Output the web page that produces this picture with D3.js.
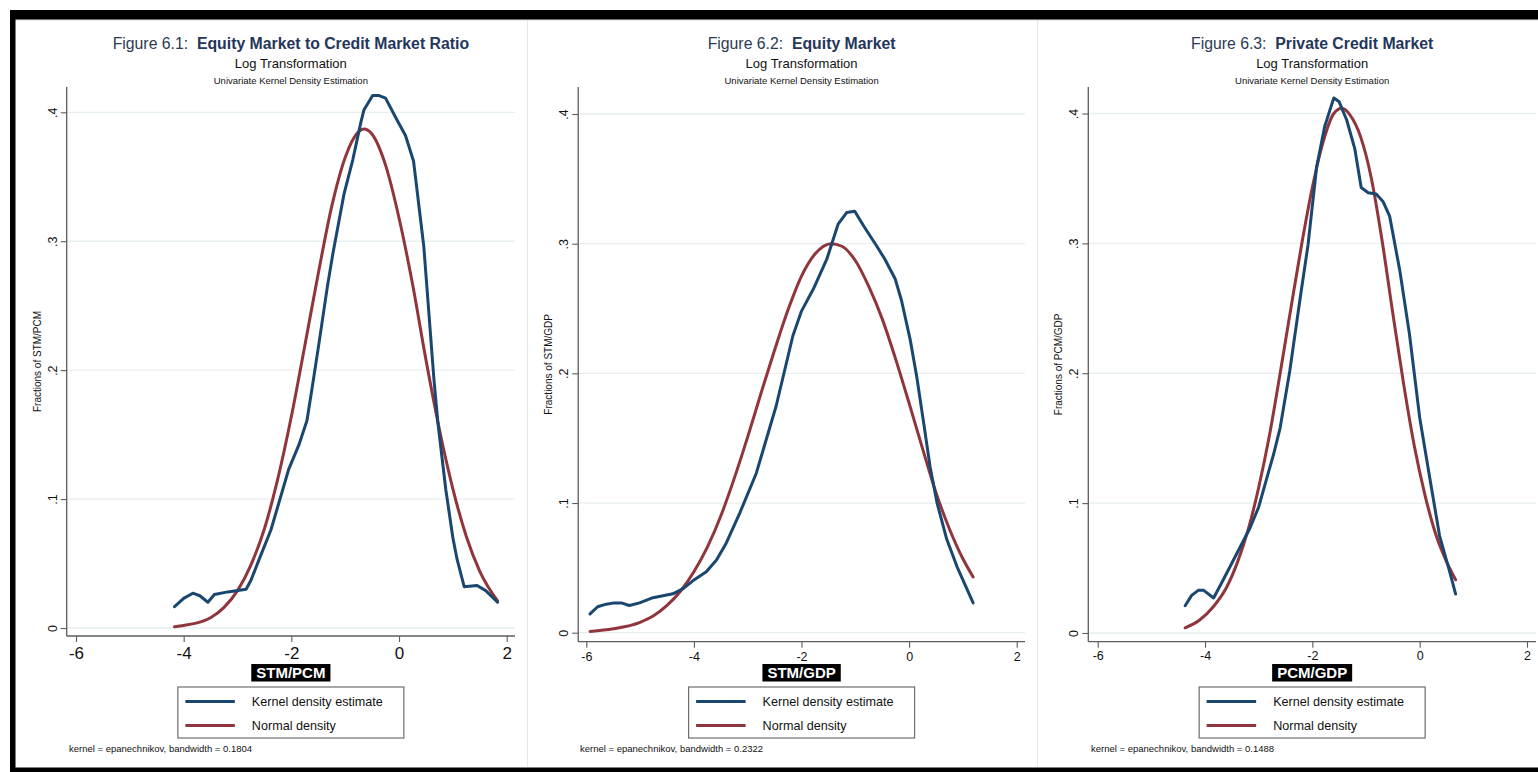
<!DOCTYPE html>
<html>
<head>
<meta charset="utf-8">
<script src="https://cdn.jsdelivr.net/npm/d3@7"></script>
<style>
  body { margin: 0; background: #fff; }
  svg { display: block; font-family: "Liberation Sans", Arial, Helvetica, sans-serif; }
</style>
</head>
<body>
<svg id="chart" width="1538" height="772"></svg>
<script>
// ---- Axis ticks and labels ----
const xTicks = [-6, -4, -2, 0, 2];
const xTickLabels = ["-6", "-4", "-2", "0", "2"];
const yTicks = [0, 0.1, 0.2, 0.3, 0.4];
const yTickLabels = ["0", ".1", ".2", ".3", ".4"];

// ---- Panel texts ----
const figureNumbers = ["Figure 6.1:", "Figure 6.2:", "Figure 6.3:"];
const figureTitles = ["Equity Market to Credit Market Ratio", "Equity Market", "Private Credit Market"];
const subtitle = "Log Transformation";
const subsubtitle = "Univariate Kernel Density Estimation";
const variableNames = ["STM/PCM", "STM/GDP", "PCM/GDP"];
const bandwidths = ["0.1804", "0.2322", "0.1488"];
const seriesNames = ["Kernel density estimate", "Normal density"];

// ---- Densities, [log value, density] ----
const kdeStmPcm = [
  [-4.17, 0.0165], [-4.00, 0.023], [-3.83, 0.027], [-3.70, 0.025], [-3.55, 0.020], [-3.43, 0.026],
  [-3.18, 0.028], [-2.84, 0.030], [-2.75, 0.037], [-2.60, 0.053], [-2.38, 0.076], [-2.19, 0.103],
  [-2.05, 0.123], [-1.86, 0.142], [-1.71, 0.161], [-1.60, 0.190], [-1.49, 0.220], [-1.33, 0.265],
  [-1.23, 0.290], [-1.02, 0.337], [-0.86, 0.363], [-0.71, 0.392], [-0.65, 0.402], [-0.49, 0.413],
  [-0.37, 0.413], [-0.25, 0.411], [-0.05, 0.395], [0.12, 0.382], [0.27, 0.362], [0.46, 0.296],
  [0.65, 0.192], [0.72, 0.160], [0.87, 0.107], [1.00, 0.070], [1.08, 0.053], [1.21, 0.032],
  [1.45, 0.033], [1.61, 0.029], [1.83, 0.020]
];
const normalStmPcm = [
  [-4.17, 0.001], [-4.00, 0.002], [-3.75, 0.004], [-3.50, 0.008], [-3.25, 0.016], [-3.00, 0.029],
  [-2.75, 0.049], [-2.50, 0.077], [-2.25, 0.116], [-2.00, 0.164], [-1.75, 0.219], [-1.50, 0.275],
  [-1.25, 0.327], [-1.00, 0.365], [-0.75, 0.385], [-0.65, 0.387], [-0.50, 0.383], [-0.25, 0.359],
  [0.00, 0.318], [0.25, 0.267], [0.50, 0.208], [0.75, 0.154], [1.00, 0.108], [1.25, 0.071],
  [1.50, 0.044], [1.83, 0.021]
];

const kdeStmGdp = [
  [-5.93, 0.0145], [-5.79, 0.020], [-5.63, 0.022], [-5.48, 0.023], [-5.35, 0.023], [-5.20, 0.021],
  [-5.01, 0.023], [-4.76, 0.027], [-4.39, 0.030], [-4.20, 0.034], [-4.02, 0.040], [-3.77, 0.047],
  [-3.58, 0.056], [-3.40, 0.069], [-3.15, 0.092], [-2.84, 0.123], [-2.47, 0.175], [-2.16, 0.229],
  [-2.00, 0.248], [-1.78, 0.265], [-1.53, 0.288], [-1.32, 0.315], [-1.16, 0.324], [-1.01, 0.325],
  [-0.85, 0.314], [-0.60, 0.298], [-0.45, 0.288], [-0.26, 0.273], [-0.14, 0.256], [0.02, 0.226],
  [0.14, 0.198], [0.27, 0.162], [0.39, 0.128], [0.52, 0.100], [0.70, 0.072], [0.89, 0.051],
  [1.19, 0.023]
];
const normalStmGdp = [
  [-5.93, 0.001], [-5.50, 0.003], [-5.00, 0.008], [-4.75, 0.013], [-4.50, 0.021], [-4.25, 0.032],
  [-4.00, 0.047], [-3.75, 0.066], [-3.50, 0.090], [-3.25, 0.119], [-3.00, 0.151], [-2.75, 0.185],
  [-2.50, 0.218], [-2.25, 0.249], [-2.00, 0.275], [-1.75, 0.292], [-1.45, 0.300], [-1.25, 0.298],
  [-1.00, 0.287], [-0.75, 0.267], [-0.50, 0.242], [-0.25, 0.211], [0.00, 0.177], [0.25, 0.142],
  [0.50, 0.108], [0.75, 0.080], [1.00, 0.057], [1.19, 0.043]
];

const kdePcmGdp = [
  [-4.37, 0.021], [-4.25, 0.029], [-4.12, 0.033], [-4.03, 0.033], [-3.84, 0.027], [-3.66, 0.041],
  [-3.41, 0.061], [-3.16, 0.081], [-3.00, 0.097], [-2.85, 0.119], [-2.72, 0.138], [-2.60, 0.158],
  [-2.42, 0.202], [-2.23, 0.257], [-2.08, 0.299], [-1.92, 0.359], [-1.77, 0.390], [-1.60, 0.412],
  [-1.50, 0.409], [-1.36, 0.395], [-1.21, 0.373], [-1.09, 0.343], [-0.96, 0.339], [-0.81, 0.338],
  [-0.68, 0.332], [-0.56, 0.321], [-0.37, 0.279], [-0.19, 0.230], [0.00, 0.166], [0.19, 0.119],
  [0.37, 0.075], [0.56, 0.047], [0.67, 0.030]
];
const normalPcmGdp = [
  [-4.37, 0.004], [-4.10, 0.010], [-3.85, 0.020], [-3.60, 0.035], [-3.40, 0.054], [-3.20, 0.079],
  [-3.00, 0.112], [-2.80, 0.152], [-2.60, 0.200], [-2.40, 0.250], [-2.20, 0.299], [-2.00, 0.343],
  [-1.80, 0.378], [-1.60, 0.400], [-1.45, 0.404], [-1.30, 0.399], [-1.10, 0.382], [-0.90, 0.350],
  [-0.70, 0.302], [-0.50, 0.246], [-0.30, 0.192], [-0.10, 0.144], [0.10, 0.106], [0.30, 0.076],
  [0.50, 0.055], [0.67, 0.041]
];

const kdeSeries = [kdeStmPcm, kdeStmGdp, kdePcmGdp];
const normalSeries = [normalStmPcm, normalStmGdp, normalPcmGdp];

// ---- Panel geometry ----
const layout = [
  { axisX: 66.7, axisY: 636, top: 87, plotRight: 515, xRange: [76, 506.7], yRange: [628, 112.3],
    xFont: 17, xBase: 658.5, footX: 69 },
  { axisX: 578.2, axisY: 641.7, top: 87, plotRight: 1025, xRange: [586.3, 1016.7], yRange: [632.7, 114],
    xFont: 12.5, xBase: 661, footX: 580 },
  { axisX: 1088.3, axisY: 641.7, top: 87, plotRight: 1536, xRange: [1097.7, 1527], yRange: [633, 113.5],
    xFont: 12.5, xBase: 660, footX: 1091 }
];

const colors = { kde: "#1a476f", normal: "#90353b", axis: "#5c5c5c", grid: "#e7eff1", title: "#24365a" };

const svg = d3.select("#chart");
svg.append("rect").attr("width", 1538).attr("height", 772).attr("fill", "#fff");

// panel separators
[527.5, 1037.5].forEach(px => {
  svg.append("line").attr("x1", px).attr("x2", px).attr("y1", 20).attr("y2", 767)
    .attr("stroke", "#e1e8eb").attr("stroke-width", 1);
});
svg.append("line").attr("x1", 15).attr("x2", 1538).attr("y1", 20).attr("y2", 20)
  .attr("stroke", "#d3d9dc").attr("stroke-width", 1);

layout.forEach((L, i) => {
  const g = svg.append("g");
  const cx = (L.axisX + L.plotRight) / 2;
  const x = d3.scaleLinear().domain([-6, 2]).range(L.xRange);
  const y = d3.scaleLinear().domain([0, 0.4]).range(L.yRange);

  // titles
  const t = g.append("text").attr("x", cx).attr("y", 49).attr("text-anchor", "middle")
    .attr("font-size", 15.8).attr("fill", colors.title);
  t.append("tspan").attr("fill", "#2c3a52").text(figureNumbers[i] + "\u00a0\u00a0");
  t.append("tspan").attr("font-weight", "bold").text(figureTitles[i]);
  g.append("text").attr("x", cx).attr("y", 68).attr("text-anchor", "middle")
    .attr("font-size", 13).attr("fill", "#111").text(subtitle);
  g.append("text").attr("x", cx).attr("y", 83.5).attr("text-anchor", "middle")
    .attr("font-size", 9.5).attr("fill", "#111").text(subsubtitle);

  // gridlines
  g.append("g").selectAll("line").data(yTicks).join("line")
    .attr("x1", L.axisX).attr("x2", L.plotRight)
    .attr("y1", d => y(d)).attr("y2", d => y(d))
    .attr("stroke", colors.grid).attr("stroke-width", 1.3);

  // x axis
  const gx = g.append("g").attr("transform", `translate(0,${L.axisY})`)
    .call(d3.axisBottom(x).tickValues(xTicks).tickFormat((d, k) => xTickLabels[k]).tickSize(6).tickSizeOuter(0));
  gx.select(".domain").remove();
  gx.selectAll(".tick line").attr("stroke", colors.axis).attr("stroke-width", 1.1);
  gx.selectAll(".tick text").attr("y", L.xBase - L.axisY).attr("dy", 0)
    .attr("font-size", L.xFont).attr("font-family", null).attr("fill", "#111");
  g.append("line").attr("x1", L.axisX).attr("x2", L.plotRight).attr("y1", L.axisY).attr("y2", L.axisY)
    .attr("stroke", colors.axis).attr("stroke-width", 1.3);

  // y axis
  const gy = g.append("g").attr("transform", `translate(${L.axisX},0)`)
    .call(d3.axisLeft(y).tickValues(yTicks).tickFormat((d, k) => yTickLabels[k]).tickSize(6).tickSizeOuter(0));
  gy.select(".domain").remove();
  gy.selectAll(".tick line").attr("stroke", colors.axis).attr("stroke-width", 1.1);
  gy.selectAll(".tick text").attr("x", 0).attr("dy", 0).attr("text-anchor", "middle")
    .attr("transform", "translate(-10,0) rotate(-90)")
    .attr("font-size", 12.5).attr("font-family", null).attr("fill", "#111");
  g.append("line").attr("x1", L.axisX).attr("x2", L.axisX).attr("y1", L.top).attr("y2", L.axisY)
    .attr("stroke", colors.axis).attr("stroke-width", 1.3);

  // y axis title
  g.append("text").attr("transform", `translate(${L.axisX - 26},${(L.top + L.axisY) / 2}) rotate(-90)`)
    .attr("text-anchor", "middle").attr("font-size", 10).attr("fill", "#111")
    .text("Fractions of " + variableNames[i]);

  // curves
  const line = d3.line().x(d => x(d[0])).y(d => y(d[1]));
  g.append("path").datum(normalSeries[i])
    .attr("d", line.curve(d3.curveMonotoneX))
    .attr("fill", "none").attr("stroke", colors.normal).attr("stroke-width", 3)
    .attr("stroke-linejoin", "round").attr("stroke-linecap", "round");
  g.append("path").datum(kdeSeries[i])
    .attr("d", line.curve(d3.curveLinear))
    .attr("fill", "none").attr("stroke", colors.kde).attr("stroke-width", 3)
    .attr("stroke-linejoin", "round").attr("stroke-linecap", "round");

  // x axis title on dark label
  const xt = g.append("text").attr("x", cx).attr("y", 677.5).attr("text-anchor", "middle")
    .attr("font-size", 15).attr("font-weight", "bold").attr("fill", "#fff").text(variableNames[i]);
  const w = xt.node().getComputedTextLength();
  g.insert("rect", () => xt.node())
    .attr("x", cx - w / 2 - 5).attr("y", 664).attr("width", w + 10).attr("height", 17.5).attr("fill", "#000");

  // legend
  const lx = cx - 113, ly = 687;
  g.append("rect").attr("x", lx).attr("y", ly).attr("width", 226).attr("height", 51)
    .attr("fill", "#fff").attr("stroke", "#6e6e6e").attr("stroke-width", 1.2);
  [colors.kde, colors.normal].forEach((c, k) => {
    const yy = ly + 14.5 + k * 24;
    g.append("line").attr("x1", lx + 7.5).attr("x2", lx + 57).attr("y1", yy).attr("y2", yy)
      .attr("stroke", c).attr("stroke-width", 3);
    g.append("text").attr("x", lx + 74).attr("y", yy + 4.5).attr("font-size", 12.6).attr("fill", "#111")
      .text(seriesNames[k]);
  });

  // kernel note
  g.append("text").attr("x", L.footX).attr("y", 751.5).attr("font-size", 9.5).attr("fill", "#111")
    .text("kernel = epanechnikov, bandwidth = " + bandwidths[i]);
});

// outer frame
svg.append("rect").attr("x", 10).attr("y", 10).attr("width", 1528).attr("height", 9.5).attr("fill", "#000");
svg.append("rect").attr("x", 10).attr("y", 10).attr("width", 5.5).attr("height", 762).attr("fill", "#000");
svg.append("rect").attr("x", 10).attr("y", 767.5).attr("width", 1528).attr("height", 4.5).attr("fill", "#000");
</script>
</body>
</html>
